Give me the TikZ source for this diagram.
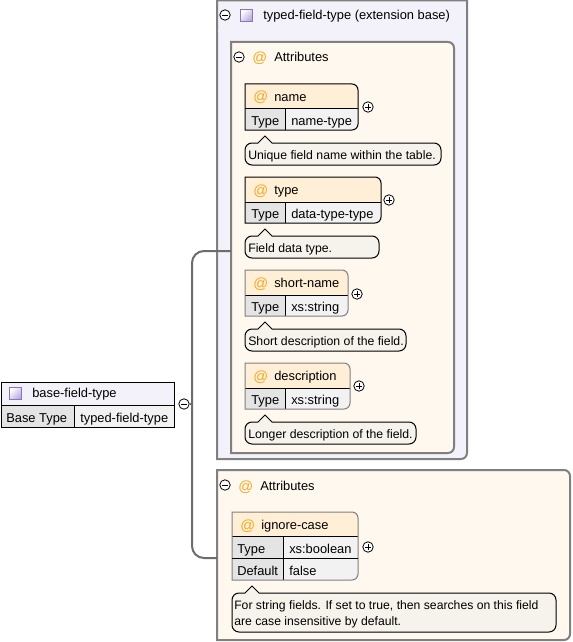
\documentclass[tikz,border=0pt]{standalone}
\usepackage{fontspec}
\setmainfont{Liberation Sans}
\definecolor{edge}{HTML}{808080}
\definecolor{wire}{HTML}{6C6C6C}
\definecolor{typebg}{HTML}{F3F1F9}
\definecolor{attrbg}{HTML}{FFF8EE}
\definecolor{attrhead}{HTML}{FFEFD6}
\definecolor{labelcell}{HTML}{E4E4E4}
\definecolor{valuecell}{HTML}{F2F2F2}
\definecolor{notebg}{HTML}{F6F3EC}
\definecolor{atcol}{HTML}{F7A823}
\definecolor{iconedge}{HTML}{8E72BE}
\definecolor{iconfill}{HTML}{B8A6DC}
\tikzset{
  x=0.75pt,y=-0.75pt,
  lbl/.style={anchor=base west,inner sep=0pt,font=\fontsize{9.65}{11}\selectfont,text=black},
  notelbl/.style={anchor=base west,inner sep=0pt,font=\fontsize{9.2}{11}\selectfont,text=black},
  longlbl/.style={anchor=base west,inner sep=0pt,font=\fontsize{9.15}{11}\selectfont,text=black},
  atsign/.style={anchor=base west,inner sep=0pt,font=\fontsize{11}{12}\selectfont,text=atcol},
  expander/.style={circle,draw=black,fill=white,line width=0.6pt,minimum size=7.8pt,inner sep=0pt},
  minusx/.style={expander,path picture={\draw[line width=0.6pt]
     ([xshift=-2.2pt]path picture bounding box.center) -- ([xshift=2.2pt]path picture bounding box.center);}},
  plusx/.style={expander,path picture={\draw[line width=0.6pt]
     ([xshift=-2.2pt]path picture bounding box.center) -- ([xshift=2.2pt]path picture bounding box.center)
     ([yshift=-2.2pt]path picture bounding box.center) -- ([yshift=2.2pt]path picture bounding box.center);}},
  frame/.style={draw=edge,line width=1.5pt},
  cellline/.style={draw=black,line width=0.75pt},
  grayline/.style={draw=edge,line width=0.75pt},
  conn/.style={draw=wire,line width=1.5pt,rounded corners=9pt},
  stub/.style={draw=wire,line width=1pt},
  anchorbox/.style={rectangle,inner sep=0pt,outer sep=0pt},
}
\newcommand{\namedbox}[5]{%
  \path (#2,#3) -- (#4,#5) coordinate[midway] (#1-c);
  \pgfmathsetmacro{\bw}{abs(#4-#2)*0.75}\pgfmathsetmacro{\bh}{abs(#5-#3)*0.75}%
  \node[anchorbox,minimum width=\bw pt,minimum height=\bh pt] (#1) at (#1-c) {};}
\newcommand{\rrbox}[5]{%
  \path[#1] (#2,#3) -- (#4-6,#3) arc[start angle=90,end angle=0,radius=4.5pt] -- (#4,#5-6) arc[start angle=0,end angle=-90,radius=4.5pt] -- (#2,#5) -- cycle;}
\newcommand{\note}[7]{%
  \namedbox{#1}{#2}{#3}{#4}{#5}%
  \path[fill=notebg,cellline] (#2+7,#3) -- (#6-7,#3) -- (#6,#3-7) -- (#6+7,#3) -- (#4-7,#3)
     arc[start angle=90,end angle=0,radius=5.25pt] -- (#4,#5-7)
     arc[start angle=0,end angle=-90,radius=5.25pt] -- (#2+7,#5)
     arc[start angle=270,end angle=180,radius=5.25pt] -- (#2,#3+7)
     arc[start angle=180,end angle=90,radius=5.25pt] -- cycle;
  #7}
\newcommand{\attrcard}[9]{%
  \namedbox{#1}{#2}{#3}{#7}{#5}%
  \rrbox{fill=valuecell}{#2}{#3}{#7}{#5}%
  \rrbox{fill=attrhead}{#2}{#3}{#7}{#4+3}%
  \fill[attrhead] (#2,#3+6) rectangle (#7,#4);
  \fill[valuecell] (#2+1,#4) rectangle (#7,#4+8);
  \fill[labelcell] (#2,#4) rectangle (#6,#5);
  \draw[cellline] (#2,#4) -- (#7,#4) (#6,#4) -- (#6,#5);
  \rrbox{#8}{#2}{#3}{#7}{#5}%
  \node[atsign] (#1-at) at (#2+8,#3+18) {@};
  \node[lbl] (#1-title) at (#2+29,#3+17) {#9};}
\newcommand{\sep}[3]{\shade[left color=#1,middle color=edge!75!white,right color=#1] #2 rectangle #3;}
\newcommand{\icon}[3]{%
  \node[anchorbox,minimum size=9.4pt,draw=iconedge,line width=0.75pt,
        left color=white,right color=iconfill,shading angle=45] (#1) at (#2,#3) {};}
\begin{document}
\begin{tikzpicture}
\useasboundingbox (0,0) rectangle (572,642);
\fill[white] (0,0) rectangle (572,642);

\node[anchorbox,minimum width=1pt,minimum height=1pt] (low) at (217,558) {};
\coordinate (spine) at (192,404);

% --- outer extension box
\namedbox{outer}{217}{0}{467}{459}
\path[fill=typebg,frame] (217,0.5) -- (467,0.5) -- (467,453) arc[start angle=0,end angle=-90,radius=4.5pt] -- (217,459) -- cycle;
\node[minusx] (outer-x) at (225,15) {};
\icon{outer-i}{246.5}{15.5}
\node[lbl] (outer-t) at (263,20) {typed-field-type (extension base)};
\sep{typebg}{(218,30.5)}{(407,32)}

% --- inner attributes
\namedbox{attrs}{231}{42}{454}{453}
\rrbox{fill=attrbg,frame}{231}{42}{454}{453}
\node[minusx] (attrs-x) at (239,57) {};
\node[atsign] (attrs-at) at (252,63) {@};
\node[lbl] (attrs-t) at (274,62) {Attributes};
\sep{attrbg}{(234,72.5)}{(400,74)}

\attrcard{name}{245}{84}{108}{130}{285.5}{358}{cellline}{name}
\node[lbl] (name-k) at (251,125) {Type};
\node[lbl] (name-v) at (291,125) {name-type};
\node[plusx] (name-x) at (368,107) {};
\note{name-n}{245}{143}{441}{165}{265}{\node[notelbl] (name-nt) at (248,159) {Unique field name within the table.};}

\attrcard{type}{245}{177}{202}{223}{285.5}{381}{cellline}{type}
\node[lbl] (type-k) at (251,218) {Type};
\node[lbl] (type-v) at (291,218) {data-type-type};
\node[plusx] (type-x) at (389,200) {};
\note{type-n}{245}{236}{379}{258}{265}{\node[notelbl] (type-nt) at (248,252) {Field data type.};}

\attrcard{short}{245}{270}{295}{316}{285.5}{348}{grayline}{short-name}
\node[lbl] (short-k) at (251,311) {Type};
\node[lbl] (short-v) at (291,311) {xs:string};
\node[plusx] (short-x) at (357,294) {};
\note{short-n}{245}{329}{406}{351}{265}{\node[notelbl] (short-nt) at (248,345) {Short description of the field.};}

\attrcard{desc}{245}{363}{388}{409}{285.5}{350}{grayline}{description}
\node[lbl] (desc-k) at (251,404) {Type};
\node[lbl] (desc-v) at (291,404) {xs:string};
\node[plusx] (desc-x) at (359,386) {};
\note{desc-n}{245}{422}{416}{444}{265}{\node[notelbl] (desc-nt) at (248,438) {Longer description of the field.};}

% --- lower attributes
\namedbox{lower}{217}{470}{570}{640}
\rrbox{fill=attrbg,frame}{217}{470}{570}{640}
\node[minusx] (lower-x) at (225,485) {};
\node[atsign] (lower-at) at (238,491) {@};
\node[lbl] (lower-t) at (260,490) {Attributes};
\sep{attrbg}{(220,500.5)}{(485,502)}

\attrcard{ignore}{232}{512}{536}{580}{283}{358}{grayline}{ignore-case}
\fill[valuecell] (284,537) rectangle (357,557);
\draw[cellline] (232,558) -- (358,558);
\node[lbl] (ignore-k) at (237,553) {Type};
\node[lbl] (ignore-v) at (289,553) {xs:boolean};
\node[lbl] (ignore-dk) at (237,575) {Default};
\node[lbl] (ignore-dv) at (289,575) {false};
\node[plusx] (ignore-x) at (368,547) {};
\note{ignore-n}{232}{593}{556}{632}{252}{\node[longlbl] (ignore-nt1) at (234,609) {For string fields. If set to true, then searches on this field};
 \node[longlbl] (ignore-nt2) at (234,625) {are case insensitive by default.};}

% --- root
\namedbox{root}{1}{382}{174}{427}
\path[fill=typebg,cellline] (1,382) rectangle (174,405);
\fill[labelcell] (1,405) rectangle (74,427);
\fill[valuecell] (74,405) rectangle (174,427);
\draw[cellline] (1,382) rectangle (174,427) (1,405) -- (174,405) (74,405) -- (74,427);
\icon{root-i}{15.5}{393.5}
\node[lbl] (root-t) at (32,397) {base-field-type};
\node[lbl] (root-k) at (6,422) {Base Type};
\node[lbl] (root-v) at (80,422) {typed-field-type};
\node[minusx] (root-x) at (184,404) {};

\draw[conn] (attrs.west |- 0,251) -- (192,251) -- (192,558) -- (low.center);
\draw[stub] (root-x.east) -- (spine);
\end{tikzpicture}
\end{document}
